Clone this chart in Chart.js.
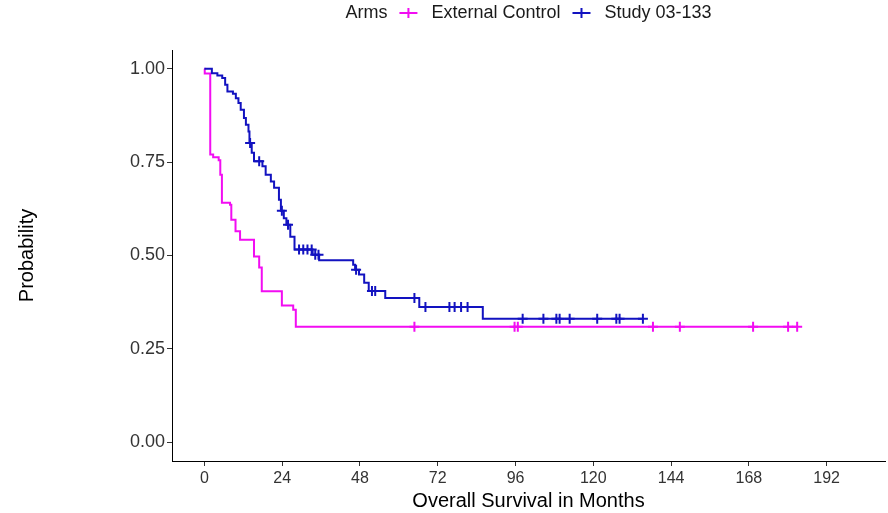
<!DOCTYPE html>
<html>
<head>
<meta charset="utf-8">
<script src="https://cdn.jsdelivr.net/npm/chart.js@4.4.0/dist/chart.umd.min.js"></script>
<style>
  html, body { margin: 0; padding: 0; background: #fff; overflow: hidden; }
  canvas { display: block; }
</style>
</head>
<body>
<canvas id="km" width="888" height="513"></canvas>
<script>
// Kaplan-Meier curves: event month and survival right after it
var ecTimes = [0, 0.1, 1.8, 2.7, 4.4, 4.9, 5.4, 7.9, 8.3, 9.6, 11.0, 15.3, 16.9, 17.7, 23.9, 27.4, 28.2];
var ecSurv  = [1.0, 0.987, 0.770, 0.763, 0.755, 0.716, 0.641, 0.636, 0.596, 0.565, 0.542, 0.497, 0.468, 0.404, 0.366, 0.355, 0.309];
var ecCensor = [64.8, 95.7, 96.7, 138.4, 146.7, 169.3, 180.1, 182.9];

var stTimes = [0, 2.3, 4.0, 5.5, 6.4, 7.1, 8.8, 9.7, 10.5, 11.2, 12.2, 12.8, 13.6, 13.9, 14.6, 15.3, 17.9, 18.9, 20.5, 21.5, 23.0, 23.6, 24.5, 25.3, 26.5, 27.8, 33.4, 35.4, 45.9, 46.5, 47.7, 49.3, 50.7, 55.8, 66.3, 85.9];
var stSurv  = [1.0, 0.988, 0.982, 0.975, 0.957, 0.939, 0.933, 0.921, 0.908, 0.890, 0.868, 0.850, 0.832, 0.801, 0.775, 0.752, 0.739, 0.716, 0.698, 0.681, 0.649, 0.620, 0.600, 0.582, 0.550, 0.516, 0.502, 0.487, 0.475, 0.462, 0.449, 0.427, 0.405, 0.386, 0.362, 0.331];
var stCensor = [14.1, 16.9, 23.9, 25.8, 29.2, 30.5, 31.8, 33.1, 34.2, 35.2, 46.8, 51.7, 52.7, 64.8, 68.2, 75.6, 77.2, 79.2, 81.2, 98.2, 104.6, 108.6, 109.6, 112.7, 121.2, 127.1, 128.1, 135.3];

var xTicks = [0, 24, 48, 72, 96, 120, 144, 168, 192];
var yTicks = [0, 0.25, 0.5, 0.75, 1.0];
var armNames = ['External Control', 'Study 03-133'];
var armColors = ['#f20df2', '#1212c0'];

function survAt(times, surv, t) {
  var s = surv[0];
  for (var i = 0; i < times.length; i++) if (times[i] <= t) s = surv[i];
  return s;
}
function curvePoints(times, surv, censor) {
  var pts = times.map(function (t, i) { return { x: t, y: surv[i] }; });
  var last = censor[censor.length - 1];
  if (last > times[times.length - 1]) pts.push({ x: last, y: survAt(times, surv, last) });
  return pts;
}
function censorPoints(times, surv, censor) {
  return censor.map(function (t) { return { x: t, y: survAt(times, surv, t) }; });
}

var fontFam = '"Liberation Sans", Arial, Helvetica, sans-serif';

// legend drawn as in the original: "Arms" followed by keyed entries
var armsLegend = {
  id: 'armsLegend',
  afterDraw: function (chart) {
    var ctx = chart.ctx, ca = chart.chartArea;
    ctx.save();
    ctx.font = '18px ' + fontFam;
    ctx.textBaseline = 'middle';
    ctx.fillStyle = '#1a1a1a';
    var y = 13, keyW = 18, gapKey = 12, gapTxt = 14;
    var total = ctx.measureText('Arms').width;
    armNames.forEach(function (n) { total += gapKey + keyW + gapTxt + ctx.measureText(n).width; });
    var x = (ca.left + ca.right) / 2 - total / 2;
    ctx.fillText('Arms', x, y);
    x += ctx.measureText('Arms').width;
    armNames.forEach(function (n, i) {
      x += gapKey;
      ctx.strokeStyle = armColors[i];
      ctx.lineWidth = 2;
      ctx.beginPath();
      ctx.moveTo(x, y); ctx.lineTo(x + keyW, y);
      ctx.moveTo(x + keyW / 2, y - 5); ctx.lineTo(x + keyW / 2, y + 5);
      ctx.stroke();
      x += keyW + gapTxt;
      ctx.fillText(n, x, y);
      x += ctx.measureText(n).width;
    });
    ctx.restore();
  }
};

var lineSets = [
  { times: ecTimes, surv: ecSurv, censor: ecCensor },
  { times: stTimes, surv: stSurv, censor: stCensor }
];
var datasets = [];
lineSets.forEach(function (s, i) {
  datasets.push({
    label: armNames[i],
    data: curvePoints(s.times, s.surv, s.censor),
    showLine: true,
    stepped: true,
    borderColor: armColors[i],
    borderWidth: 2,
    pointRadius: 0,
    order: 2 - i
  });
  datasets.push({
    label: armNames[i] + ' censored',
    data: censorPoints(s.times, s.surv, s.censor),
    showLine: false,
    pointStyle: 'cross',
    pointRadius: 5,
    borderWidth: 2,
    borderColor: armColors[i],
    order: 2 - i
  });
});

new Chart(document.getElementById('km'), {
  type: 'scatter',
  data: { datasets: datasets },
  plugins: [armsLegend],
  options: {
    responsive: false,
    animation: false,
    layout: { autoPadding: false, padding: { top: 50, right: 3, bottom: 0, left: 0 } },
    plugins: { legend: { display: false }, tooltip: { enabled: false } },
    scales: {
      x: {
        type: 'linear',
        min: -10,
        max: 210,
        afterBuildTicks: function (axis) { axis.ticks = xTicks.map(function (v) { return { value: v }; }); },
        afterFit: function (axis) { axis.height = 52; axis.paddingLeft = 0; axis.paddingRight = 0; },
        grid: { drawOnChartArea: false, drawTicks: true, tickLength: 5, color: '#333' },
        border: { display: true, color: '#000', width: 1 },
        ticks: { autoSkip: false, maxRotation: 0, padding: 3, color: '#333', font: { family: fontFam, size: 16 } },
        title: { display: true, text: 'Overall Survival in Months', color: '#000', font: { family: fontFam, size: 20 }, padding: { top: 0, bottom: 0 } }
      },
      y: {
        type: 'linear',
        min: -0.05,
        max: 1.05,
        afterBuildTicks: function (axis) { axis.ticks = yTicks.map(function (v) { return { value: v }; }); },
        afterFit: function (axis) { axis.width = 172; axis.paddingTop = 0; axis.paddingBottom = 0; },
        grid: { drawOnChartArea: false, drawTicks: true, tickLength: 5, color: '#333' },
        border: { display: true, color: '#000', width: 1 },
        ticks: { padding: 2, color: '#333', font: { family: fontFam, size: 18 }, callback: function (v) { return v.toFixed(2); } },
        title: { display: true, text: 'Probability', color: '#000', font: { family: fontFam, size: 20 }, padding: { top: 15, bottom: 0 } }
      }
    }
  }
});
</script>
</body>
</html>
